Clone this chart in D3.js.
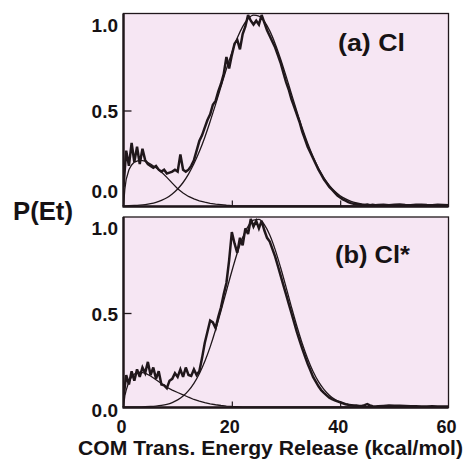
<!DOCTYPE html>
<html>
<head>
<meta charset="utf-8">
<script src="https://cdn.jsdelivr.net/npm/d3@7"></script>
<style>
  html,body{margin:0;padding:0;background:#ffffff;}
  svg{display:block;}
  text{font-family:"Liberation Sans",Arial,Helvetica,sans-serif;font-weight:bold;fill:#161214;}
</style>
</head>
<body>
<svg id="chart" width="465" height="461"></svg>
<script>
// ---------------- DATA ----------------
// Energy grid of the measured (noisy) P(Et) curves, kcal/mol
const dataEnergy = [0,0.5,1,1.5,2,2.5,3,3.5,4,4.5,5,5.5,6,6.5,7,7.5,8,8.5,9,9.5,10,10.5,11,11.5,12,12.5,13,13.5,14,14.5,
  15,15.5,16,16.5,17,17.5,18,18.5,19,19.5,20,20.5,21,21.5,22,22.5,23,23.5,24,24.5,25,25.5,26,26.5,27,27.5,28,28.5,29,29.5,
  30,30.5,31,31.5,32,32.5,33,33.5,34,34.5,35,35.5,36,36.5,37,37.5,38,38.5,39,39.5,40,40.5,41,41.5,42,42.5,43,43.5,44,44.5,
  45,45.5,46,46.5,47,48,49,50,51,52,53,54,55,56,57,58,59,60];

// (a) Cl : measured P(Et)
const dataCl = [0.10,0.29,0.21,0.33,0.23,0.31,0.22,0.30,0.24,0.22,0.21,0.20,0.21,0.19,0.18,0.19,0.17,0.175,0.18,0.19,0.18,0.27,0.19,0.18,0.19,0.21,0.24,0.29,0.34,0.37,
  0.41,0.45,0.48,0.53,0.55,0.60,0.64,0.69,0.78,0.72,0.79,0.85,0.87,0.82,0.90,0.94,1.00,0.97,0.95,0.97,0.95,1.00,0.96,0.92,0.89,0.86,0.83,0.79,0.75,0.70,
  0.65,0.61,0.56,0.52,0.48,0.44,0.39,0.35,0.31,0.28,0.25,0.22,0.19,0.165,0.14,0.12,0.10,0.085,0.07,0.055,0.045,0.035,0.028,0.02,0.015,0.012,0.01,0.008,0.006,0.005,
  0.008,0.004,0.006,0.004,0.005,0.007,0.004,0.006,0.008,0.005,0.004,0.006,0.007,0.005,0.004,0.006,0.005,0.004];

// (b) Cl* : measured P(Et)
const dataClStar = [0.05,0.17,0.12,0.19,0.14,0.20,0.16,0.21,0.18,0.24,0.17,0.21,0.15,0.19,0.12,0.115,0.10,0.14,0.15,0.18,0.16,0.20,0.16,0.21,0.17,0.165,0.20,0.17,0.19,0.26,
  0.34,0.40,0.46,0.45,0.42,0.48,0.53,0.60,0.66,0.78,0.93,0.87,0.82,0.90,0.86,0.95,0.92,1.00,0.96,0.99,0.95,0.99,0.94,0.90,0.88,0.84,0.80,0.75,0.70,0.65,
  0.60,0.55,0.50,0.45,0.40,0.355,0.31,0.27,0.23,0.195,0.16,0.135,0.11,0.09,0.075,0.062,0.05,0.042,0.035,0.03,0.025,0.02,0.015,0.012,0.01,0.008,0.008,0.005,0.006,0.01,
  0.015,0.008,0.004,0.003,0.004,0.006,0.008,0.007,0.006,0.005,0.004,0.004,0.003,0.003,0.004,0.003,0.003,0.003];

// Low-energy fit component grid and values
const lowEnergy = [0,0.25,0.5,1,1.5,2,3,4,5,6,7,8,9,10,11,12,13,14,15,16,17,18,19,20,22,25,30,40,60];
const lowFitCl = [0,0.09,0.14,0.19,0.215,0.23,0.24,0.235,0.22,0.2,0.178,0.15,0.12,0.09,0.068,0.05,0.037,0.027,0.02,0.014,0.01,0.007,0.004,0.002,0.001,0,0,0,0];
const lowFitClStar = [0,0.06,0.09,0.135,0.16,0.175,0.185,0.18,0.165,0.145,0.125,0.105,0.09,0.077,0.065,0.052,0.04,0.031,0.023,0.017,0.012,0.008,0.005,0.003,0.001,0,0,0,0];

// Gaussian-like high-energy fit component grid and values
const highEnergy = [0,1,2,3,4,5,6,7,8,9,10,11,12,13,14,15,16,17,18,19,20,21,22,23,24,25,26,27,28,29,
  30,31,32,33,34,35,36,37,38,39,40,41,42,43,44,45,46,47,48,50,52,55,60];
const highFitCl = [0.0009,0.0016,0.0028,0.0047,0.0076,0.0122,0.019,0.029,0.043,0.063,0.089,0.123,0.167,0.221,0.285,0.359,0.443,0.532,0.625,0.717,0.803,0.879,0.939,0.980,0.999,0.994,0.966,0.917,0.850,0.770,
  0.681,0.588,0.496,0.408,0.328,0.258,0.198,0.148,0.108,0.0775,0.054,0.037,0.0245,0.016,0.010,0.0063,0.0038,0.0022,0.0013,0.0004,0.0001,0,0];
const highFitClStar = [0.0001,0.0002,0.0004,0.0008,0.0015,0.0027,0.0049,0.0085,0.0144,0.0237,0.0376,0.058,0.087,0.126,0.177,0.242,0.320,0.411,0.512,0.617,0.722,0.819,0.901,0.961,0.994,0.998,0.970,0.915,0.837,0.742,
  0.639,0.533,0.431,0.338,0.257,0.189,0.135,0.094,0.063,0.041,0.026,0.016,0.0095,0.0055,0.003,0.0016,0.0009,0.0005,0.0002,0,0,0,0];

// Tick labels and texts
const xTickValues = [0,20,40,60];
const xMinorTicks = [20,40];
const yTickValues = [0,0.5,1.0];
const yTickLabels = ["0.0","0.5","1.0"];
const panelLabels = ["(a) Cl","(b) Cl*"];
const yTitle = "P(Et)";
const xTitle = "COM Trans. Energy Release (kcal/mol)";

// ---------------- LAYOUT ----------------
const ink = "#20171b";
const bg = "#f6e6f3";
const svg = d3.select("#chart");
const x = d3.scaleLinear().domain([0,60]).range([123.5,448.5]);

const panels = [
  {top:13.5, bottom:206.5, y0:206, y1:15, label:panelLabels[0], lx:338, ly:51, lw:67,
   meas:dataCl, low:lowFitCl, high:highFitCl, labelShift:[-14.5,1,10]},
  {top:217, bottom:407.5, y0:407, y1:219, label:panelLabels[1], lx:335, ly:263, lw:75,
   meas:dataClStar, low:lowFitClStar, high:highFitClStar, labelShift:[3,1,9]}
];

panels.forEach((p,i)=>{
  const y = d3.scaleLinear().domain([0,1]).range([p.y0,p.y1]);
  const g = svg.append("g");
  const clipId = "clip"+i;
  svg.append("defs").append("clipPath").attr("id",clipId)
    .append("rect").attr("x",x(0)).attr("y",p.top).attr("width",x(60)-x(0)).attr("height",p.bottom-p.top);

  g.append("rect").attr("x",x(0)).attr("y",p.top).attr("width",x(60)-x(0)).attr("height",p.bottom-p.top)
    .attr("fill",bg).attr("stroke","none");

  const plot = g.append("g").attr("clip-path",`url(#${clipId})`);
  const line = d3.line().x(d=>x(d[0])).y(d=>y(d[1]));

  plot.append("path").datum(lowEnergy.map((e,k)=>[e,p.low[k]]))
    .attr("d",line).attr("fill","none").attr("stroke",ink).attr("stroke-width",1.3);
  plot.append("path").datum(highEnergy.map((e,k)=>[e,p.high[k]]))
    .attr("d",d3.line().curve(d3.curveMonotoneX).x(d=>x(d[0])).y(d=>y(d[1])))
    .attr("fill","none").attr("stroke",ink).attr("stroke-width",1.3);
  plot.append("path").datum(dataEnergy.map((e,k)=>[e,p.meas[k]]))
    .attr("d",line).attr("fill","none").attr("stroke",ink).attr("stroke-width",2.5)
    .attr("stroke-linejoin","miter").attr("stroke-miterlimit",3);

  // frame: thin top/right, thick left/bottom
  g.append("rect").attr("x",x(0)).attr("y",p.top).attr("width",x(60)-x(0)).attr("height",p.bottom-p.top)
    .attr("fill","none").attr("stroke",ink).attr("stroke-width",1.3);
  g.append("line").attr("x1",x(0)).attr("x2",x(0)).attr("y1",p.top).attr("y2",p.bottom)
    .attr("stroke",ink).attr("stroke-width",2.4);
  g.append("line").attr("x1",x(0)-1).attr("x2",x(60)).attr("y1",p.bottom).attr("y2",p.bottom)
    .attr("stroke",ink).attr("stroke-width",2.6);

  // inward ticks via axes
  const xa = g.append("g").attr("transform",`translate(0,${p.bottom})`)
    .call(d3.axisBottom(x).tickValues(xMinorTicks).tickSize(-6).tickFormat(""));
  xa.select(".domain").remove();
  xa.selectAll("line").attr("stroke",ink).attr("stroke-width",1.2);
  const ya = g.append("g").attr("transform",`translate(${x(0)},0)`)
    .call(d3.axisLeft(y).tickValues([0.5]).tickSize(-8).tickFormat(""));
  ya.select(".domain").remove();
  ya.selectAll("line").attr("stroke",ink).attr("stroke-width",1.3);

  // y tick labels
  g.selectAll("text.ylab").data(yTickValues).enter().append("text")
    .attr("class","ylab").attr("x",118).attr("y",(d,k)=>y(d)+p.labelShift[k])
    .attr("dy","0.36em").attr("text-anchor","end").style("font-size","19px")
    .text((d,k)=>yTickLabels[k]);

  // panel label
  g.append("text").attr("x",p.lx).attr("y",p.ly).style("font-size","24px")
    .attr("textLength",p.lw).attr("lengthAdjust","spacingAndGlyphs").text(p.label);
});

// bottom x tick labels
svg.append("g").selectAll("text").data(xTickValues).enter().append("text")
  .attr("x",d=>x(d)-2).attr("y",433).attr("text-anchor","middle").style("font-size","18px")
  .text(d=>d);

// axis titles
svg.append("text").attr("x",13).attr("y",220).style("font-size","25.5px")
  .attr("textLength",60).attr("lengthAdjust","spacingAndGlyphs").text(yTitle);
svg.append("text").attr("x",78).attr("y",455).style("font-size","21px")
  .attr("textLength",385).attr("lengthAdjust","spacingAndGlyphs").text(xTitle);
</script>
</body>
</html>
